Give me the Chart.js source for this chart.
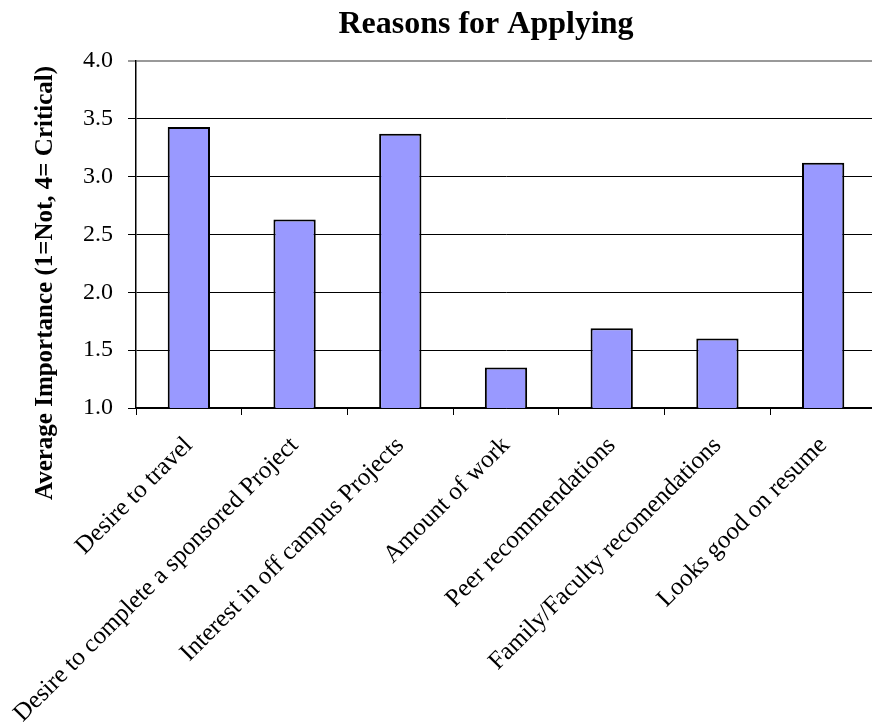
<!DOCTYPE html>
<html>
<head>
<meta charset="utf-8">
<script src="https://cdn.jsdelivr.net/npm/chart.js@4"></script>
<style>
  html, body { margin: 0; padding: 0; background: #fff; overflow: hidden; }
</style>
</head>
<body>
<canvas id="graph" width="880" height="728"></canvas>
<script>
// data
const reasons = [
  'Desire to travel',
  'Desire to complete a sponsored Project',
  'Interest in off campus Projects',
  'Amount of work',
  'Peer recommendations',
  'Family/Faculty recomendations',
  'Looks good on resume'
];
const importance = [3.43, 2.63, 3.37, 1.35, 1.69, 1.60, 3.12];
const yTicks = [1.0, 1.5, 2.0, 2.5, 3.0, 3.5, 4.0];

const chartTitle = 'Reasons for Applying';
const yTitle = 'Average Importance (1=Not, 4= Critical)';

const serif = 'Liberation Serif, Times New Roman, serif';

// titles sit off-centre in the original, so draw them by hand
const titles = {
  id: 'titles',
  afterDraw(chart) {
    const c = chart.ctx;
    c.save();
    c.fillStyle = '#000';
    c.textAlign = 'center';
    c.textBaseline = 'middle';
    c.font = 'bold 32px ' + serif;
    c.fillText(chartTitle, 486, 25);
    c.translate(46, 283);
    c.rotate(-Math.PI / 2);
    c.font = 'bold 25px ' + serif;
    c.fillText(yTitle, 0, 0);
    c.restore();
  }
};

const ctx = document.querySelector('#graph').getContext('2d');
new Chart(ctx, {
  type: 'bar',
  data: {
    labels: reasons,
    datasets: [{
      data: importance,
      backgroundColor: '#9999FF',
      borderColor: '#000',
      borderWidth: 2,
      barPercentage: 0.4,
      categoryPercentage: 1
    }]
  },
  options: {
    responsive: false,
    animation: false,
    layout: { padding: { left: 0, right: 4, top: 61, bottom: 0 } },
    plugins: {
      legend: { display: false },
      tooltip: { enabled: false },
      title: { display: false }
    },
    scales: {
      x: {
        offset: true,
        grid: {
          offset: true,
          drawOnChartArea: false,
          color: '#000',
          tickLength: 7
        },
        border: { color: '#000', width: 1.5 },
        ticks: {
          color: '#000',
          font: { family: serif, size: 25 },
          maxRotation: 45,
          minRotation: 45,
          autoSkip: false,
          padding: 16
        },
        afterFit: s => { s.height = 320; }
      },
      y: {
        min: 1,
        max: 4,
        afterBuildTicks: s => { s.ticks = yTicks.map(v => ({ value: v })); },
        grid: {
          color: c => c.tick && c.tick.value === 4 ? '#999' : '#000',
          lineWidth: c => c.tick && c.tick.value === 4 ? 2 : 1,
          tickLength: 8
        },
        border: { color: '#000', width: 1.5 },
        ticks: {
          color: '#000',
          font: { family: serif, size: 24 },
          padding: 15,
          callback: v => Number(v).toFixed(1)
        },
        afterFit: s => { s.width = 136; }
      }
    }
  },
  plugins: [titles]
});
</script>
</body>
</html>
